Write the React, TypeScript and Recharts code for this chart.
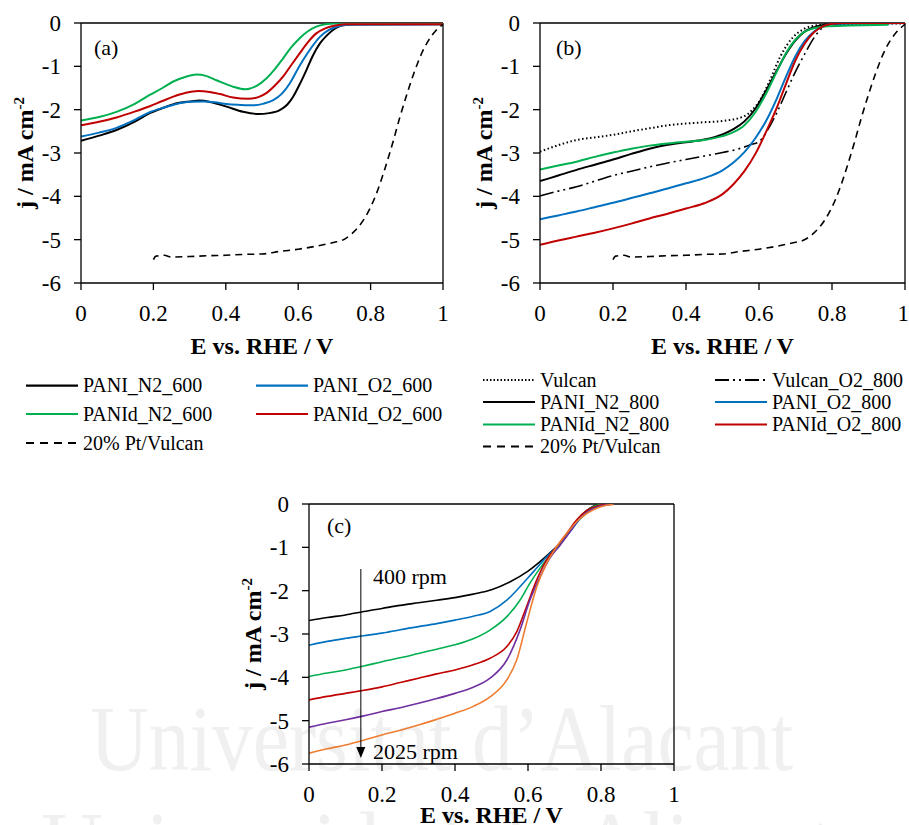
import { Line, LineChart, ReferenceLine, XAxis, YAxis } from "recharts";

type Pt = [number, number];

const FONT = "Liberation Serif";

const BLACK = "#000000";
const BLUE = "#0070C0";
const GREEN = "#00B050";
const RED = "#C00000";
const PURPLE = "#7030A0";
const ORANGE = "#ED7D31";

const xTicks = [0, 0.2, 0.4, 0.6, 0.8, 1];
const yTicks = [-6, -5, -4, -3, -2, -1, 0];

// (a) catalysts treated at 600 °C
const paniN2_600: Pt[] = [
  [0, -2.72], [0.05, -2.6], [0.098, -2.47], [0.15, -2.27], [0.19, -2.08], [0.23, -1.95], [0.264, -1.85],
  [0.3, -1.81], [0.328, -1.79], [0.36, -1.83], [0.402, -1.93], [0.448, -2.05], [0.489, -2.1],
  [0.52, -2.08], [0.549, -2.01], [0.57, -1.88], [0.586, -1.7], [0.605, -1.4], [0.623, -1.08],
  [0.64, -0.76], [0.66, -0.47], [0.68, -0.28], [0.696, -0.16], [0.724, -0.05], [0.76, -0.03], [1, -0.03],
];
const paniO2_600: Pt[] = [
  [0, -2.62], [0.05, -2.53], [0.098, -2.42], [0.15, -2.23], [0.19, -2.06], [0.23, -1.95], [0.264, -1.87],
  [0.3, -1.82], [0.338, -1.81], [0.37, -1.83], [0.402, -1.87], [0.44, -1.89], [0.476, -1.9],
  [0.505, -1.86], [0.531, -1.78], [0.555, -1.63], [0.577, -1.39], [0.595, -1.12], [0.614, -0.85],
  [0.637, -0.56], [0.66, -0.32], [0.685, -0.16], [0.706, -0.085], [0.74, -0.04], [1, -0.03],
];
const panidN2_600: Pt[] = [
  [0, -2.25], [0.05, -2.17], [0.098, -2.05], [0.15, -1.86], [0.19, -1.66], [0.225, -1.5], [0.255, -1.35],
  [0.29, -1.24], [0.319, -1.19], [0.345, -1.22], [0.374, -1.32], [0.42, -1.47], [0.453, -1.53],
  [0.485, -1.45], [0.512, -1.28], [0.535, -1.07], [0.558, -0.82], [0.58, -0.57], [0.604, -0.35],
  [0.627, -0.19], [0.65, -0.085], [0.675, -0.03], [0.7, -0.01], [1, -0.01],
];
const panidO2_600: Pt[] = [
  [0, -2.36], [0.05, -2.28], [0.098, -2.18], [0.15, -2.04], [0.19, -1.92], [0.225, -1.8], [0.255, -1.7],
  [0.29, -1.61], [0.324, -1.57], [0.355, -1.59], [0.384, -1.64], [0.42, -1.72], [0.462, -1.75],
  [0.49, -1.71], [0.512, -1.62], [0.535, -1.45], [0.558, -1.24], [0.58, -0.98], [0.604, -0.7],
  [0.627, -0.44], [0.65, -0.24], [0.673, -0.13], [0.696, -0.07], [0.73, -0.03], [1, -0.03],
];
const ptVulcan: Pt[] = [
  [0.2, -5.46], [0.207, -5.38], [0.23, -5.36], [0.25, -5.4], [0.3, -5.39], [0.35, -5.37], [0.4, -5.36],
  [0.45, -5.34], [0.5, -5.33], [0.55, -5.27], [0.6, -5.22], [0.65, -5.15], [0.7, -5.06], [0.72, -5.02],
  [0.75, -4.85], [0.78, -4.55], [0.8, -4.25], [0.82, -3.85], [0.84, -3.35], [0.86, -2.8], [0.88, -2.2],
  [0.9, -1.65], [0.92, -1.15], [0.94, -0.72], [0.96, -0.4], [0.98, -0.18], [1, -0.03],
];

// (b) catalysts treated at 800 °C
const vulcan: Pt[] = [
  [0, -2.97], [0.05, -2.82], [0.1, -2.7], [0.15, -2.64], [0.2, -2.58], [0.25, -2.5], [0.3, -2.43],
  [0.35, -2.36], [0.4, -2.32], [0.45, -2.29], [0.5, -2.26], [0.557, -2.16], [0.58, -2.02],
  [0.603, -1.78], [0.63, -1.32], [0.658, -0.78], [0.694, -0.32], [0.72, -0.15], [0.74, -0.08],
  [0.8, -0.03], [1, -0.01],
];
const vulcanO2_800: Pt[] = [
  [0, -3.99], [0.05, -3.88], [0.1, -3.78], [0.15, -3.65], [0.2, -3.52], [0.25, -3.42], [0.3, -3.32],
  [0.35, -3.23], [0.4, -3.15], [0.45, -3.07], [0.5, -2.99], [0.55, -2.89], [0.58, -2.8], [0.6, -2.74],
  [0.625, -2.45], [0.65, -2.05], [0.675, -1.58], [0.7, -1.12], [0.725, -0.72], [0.75, -0.35],
  [0.775, -0.1], [0.8, -0.02], [0.85, 0], [1, 0],
];
const paniN2_800: Pt[] = [
  [0, -3.65], [0.05, -3.52], [0.1, -3.39], [0.15, -3.27], [0.2, -3.15], [0.25, -3.02], [0.3, -2.9],
  [0.35, -2.81], [0.4, -2.75], [0.45, -2.69], [0.5, -2.57], [0.53, -2.45], [0.56, -2.27], [0.59, -1.98],
  [0.62, -1.55], [0.65, -1.08], [0.675, -0.7], [0.7, -0.4], [0.725, -0.2], [0.75, -0.1], [0.78, -0.04],
  [0.82, -0.01], [1, 0],
];
const paniO2_800: Pt[] = [
  [0, -4.53], [0.05, -4.44], [0.1, -4.35], [0.15, -4.25], [0.2, -4.15], [0.25, -4.04], [0.3, -3.93],
  [0.35, -3.82], [0.4, -3.7], [0.45, -3.58], [0.5, -3.4], [0.53, -3.22], [0.56, -2.98], [0.59, -2.66],
  [0.62, -2.25], [0.65, -1.72], [0.675, -1.22], [0.7, -0.76], [0.725, -0.42], [0.75, -0.2],
  [0.775, -0.08], [0.8, -0.02], [1, 0],
];
const panidN2_800: Pt[] = [
  [0, -3.38], [0.05, -3.29], [0.1, -3.2], [0.15, -3.09], [0.2, -2.99], [0.25, -2.9], [0.3, -2.83],
  [0.35, -2.78], [0.4, -2.74], [0.45, -2.7], [0.5, -2.61], [0.53, -2.52], [0.56, -2.36], [0.59, -2.06],
  [0.62, -1.62], [0.65, -1.1], [0.675, -0.68], [0.7, -0.38], [0.725, -0.2], [0.75, -0.12], [0.78, -0.08],
  [0.85, -0.06], [0.955, -0.04],
];
const panidO2_800: Pt[] = [
  [0, -5.12], [0.05, -5.02], [0.1, -4.93], [0.15, -4.84], [0.2, -4.74], [0.25, -4.63], [0.3, -4.51],
  [0.35, -4.4], [0.4, -4.28], [0.45, -4.16], [0.5, -3.95], [0.53, -3.72], [0.56, -3.42], [0.59, -3.02],
  [0.62, -2.5], [0.65, -1.93], [0.675, -1.38], [0.7, -0.86], [0.725, -0.48], [0.75, -0.22],
  [0.775, -0.08], [0.8, -0.02], [0.83, 0], [1, 0],
];

// (c) rotation-rate series
const rpm400: Pt[] = [
  [0, -2.69], [0.05, -2.62], [0.1, -2.56], [0.15, -2.48], [0.2, -2.41], [0.25, -2.34], [0.3, -2.28],
  [0.35, -2.22], [0.4, -2.16], [0.45, -2.08], [0.5, -1.98], [0.55, -1.8], [0.6, -1.55], [0.633, -1.33],
  [0.669, -1.06], [0.697, -0.83], [0.724, -0.52], [0.752, -0.22], [0.779, -0.05], [0.8, 0], [0.83, 0],
];
const rpm625: Pt[] = [
  [0, -3.26], [0.05, -3.17], [0.1, -3.1], [0.15, -3.04], [0.2, -2.98], [0.25, -2.9], [0.3, -2.83],
  [0.35, -2.76], [0.4, -2.68], [0.45, -2.59], [0.496, -2.48], [0.542, -2.22], [0.578, -1.91],
  [0.615, -1.56], [0.651, -1.22], [0.688, -0.91], [0.715, -0.64], [0.742, -0.35], [0.77, -0.15],
  [0.797, -0.04], [0.83, 0],
];
const rpm900: Pt[] = [
  [0, -3.98], [0.05, -3.9], [0.1, -3.83], [0.15, -3.74], [0.2, -3.64], [0.25, -3.55], [0.3, -3.45],
  [0.35, -3.35], [0.4, -3.25], [0.45, -3.11], [0.496, -2.91], [0.542, -2.6], [0.578, -2.22],
  [0.605, -1.83], [0.633, -1.48], [0.669, -1.1], [0.697, -0.83], [0.724, -0.48], [0.752, -0.22],
  [0.779, -0.06], [0.8, -0.01], [0.83, 0],
];
const rpm1225: Pt[] = [
  [0, -4.52], [0.05, -4.44], [0.1, -4.37], [0.15, -4.3], [0.2, -4.22], [0.25, -4.12], [0.3, -4.02],
  [0.35, -3.92], [0.4, -3.83], [0.45, -3.71], [0.496, -3.56], [0.542, -3.29], [0.569, -2.95],
  [0.596, -2.37], [0.624, -1.75], [0.651, -1.29], [0.679, -0.98], [0.706, -0.68], [0.733, -0.37],
  [0.761, -0.15], [0.788, -0.05], [0.81, -0.01], [0.83, 0],
];
const rpm1600: Pt[] = [
  [0, -5.15], [0.05, -5.06], [0.1, -4.98], [0.15, -4.89], [0.2, -4.79], [0.25, -4.7], [0.3, -4.6],
  [0.35, -4.49], [0.4, -4.37], [0.45, -4.23], [0.496, -4.02], [0.542, -3.6], [0.578, -2.91],
  [0.605, -2.22], [0.633, -1.68], [0.66, -1.25], [0.688, -0.95], [0.715, -0.64], [0.742, -0.33],
  [0.77, -0.14], [0.797, -0.05], [0.825, -0.01], [0.835, 0],
];
const rpm2025: Pt[] = [
  [0, -5.75], [0.05, -5.65], [0.1, -5.56], [0.15, -5.45], [0.2, -5.33], [0.25, -5.22], [0.3, -5.1],
  [0.35, -4.97], [0.4, -4.83], [0.45, -4.67], [0.496, -4.45], [0.542, -4.06], [0.569, -3.6],
  [0.596, -2.75], [0.624, -1.91], [0.651, -1.37], [0.679, -0.98], [0.706, -0.68], [0.733, -0.41],
  [0.761, -0.22], [0.788, -0.1], [0.815, -0.03], [0.834, -0.01],
];

// arrow drawn across the rpm curves, from 400 down to 2025
const rpmArrow = [
  { x: 0.142, y: -1.5 },
  { x: 0.142, y: -5.86 },
];

type Series = { name: string; pts: Pt[]; color: string; dash?: string; width?: number };

const seriesA: Series[] = [
  { name: "PANI_N2_600", pts: paniN2_600, color: BLACK },
  { name: "PANI_O2_600", pts: paniO2_600, color: BLUE },
  { name: "PANId_N2_600", pts: panidN2_600, color: GREEN },
  { name: "PANId_O2_600", pts: panidO2_600, color: RED },
  { name: "20% Pt/Vulcan", pts: ptVulcan, color: BLACK, dash: "7 5", width: 1.6 },
];

const seriesB: Series[] = [
  { name: "Vulcan", pts: vulcan, color: BLACK, dash: "1.5 2.5", width: 2 },
  { name: "Vulcan_O2_800", pts: vulcanO2_800, color: BLACK, dash: "14 4 2 4 2 4", width: 1.6 },
  { name: "PANI_N2_800", pts: paniN2_800, color: BLACK },
  { name: "PANI_O2_800", pts: paniO2_800, color: BLUE },
  { name: "PANId_N2_800", pts: panidN2_800, color: GREEN },
  { name: "PANId_O2_800", pts: panidO2_800, color: RED },
  { name: "20% Pt/Vulcan", pts: ptVulcan, color: BLACK, dash: "7 5", width: 1.6 },
];

const seriesC: Series[] = [
  { name: "400", pts: rpm400, color: BLACK, width: 1.6 },
  { name: "625", pts: rpm625, color: BLUE, width: 1.6 },
  { name: "900", pts: rpm900, color: GREEN, width: 1.6 },
  { name: "1225", pts: rpm1225, color: RED, width: 1.6 },
  { name: "1600", pts: rpm1600, color: PURPLE, width: 1.6 },
  { name: "2025", pts: rpm2025, color: ORANGE, width: 1.6 },
];

// legend grids: [series name, column, row]
const legendA: [string, number, number][] = [
  ["PANI_N2_600", 0, 0],
  ["PANI_O2_600", 1, 0],
  ["PANId_N2_600", 0, 1],
  ["PANId_O2_600", 1, 1],
  ["20% Pt/Vulcan", 0, 2],
];
const legendB: [string, number, number][] = [
  ["Vulcan", 0, 0],
  ["Vulcan_O2_800", 1, 0],
  ["PANI_N2_800", 0, 1],
  ["PANI_O2_800", 1, 1],
  ["PANId_N2_800", 0, 2],
  ["PANId_O2_800", 1, 2],
  ["20% Pt/Vulcan", 0, 3],
];

const toRows = (pts: Pt[]) => pts.map(([E, j]) => ({ E, j }));

const tickStyle = { fill: "#000", fontSize: 23, fontFamily: FONT, style: { fontFamily: FONT } };
const axisStroke = { stroke: "#000", strokeWidth: 1.3 };
const textStyle = { fontFamily: FONT };

function ArrowShape(props: any) {
  const { x1, y1, x2, y2 } = props;
  return (
    <g>
      <line x1={x1} y1={y1} x2={x2} y2={y2 - 6} stroke="#000" strokeWidth={1} />
      <path d={`M${x2 - 4.5},${y2 - 11} L${x2 + 4.5},${y2 - 11} L${x2},${y2} Z`} fill="#000" />
    </g>
  );
}

function Panel(props: {
  left: number;
  top: number;
  width: number;
  height: number;
  right: number;
  series: Series[];
  extra?: React.ReactNode;
}) {
  const { left, top, width, height, right, series, extra } = props;
  return (
    <div style={{ position: "absolute", left, top, width, height, overflow: "hidden" }}>
      <LineChart width={width} height={height} margin={{ top: 23, right, left: 0, bottom: 0 }} style={textStyle}>
        <XAxis
          type="number"
          dataKey="E"
          domain={[0, 1]}
          ticks={xTicks}
          allowDataOverflow
          height={height - 23 - 260}
          tickSize={7}
          tickMargin={15}
          tick={tickStyle}
          axisLine={axisStroke}
          tickLine={axisStroke}
        />
        <YAxis
          type="number"
          domain={[-6, 0]}
          ticks={yTicks}
          allowDataOverflow
          width={81}
          tickSize={7}
          tickMargin={13}
          tick={tickStyle}
          axisLine={axisStroke}
          tickLine={axisStroke}
        />
        <ReferenceLine y={0} stroke="#000" strokeWidth={1.3} />
        <ReferenceLine x={1} stroke="#000" strokeWidth={1.3} />
        {series.map((s) => (
          <Line
            key={s.name}
            data={toRows(s.pts)}
            dataKey="j"
            type="monotone"
            stroke={s.color}
            strokeWidth={s.width ?? 2}
            strokeDasharray={s.dash}
            dot={false}
            activeDot={false}
            isAnimationActive={false}
          />
        ))}
        {extra}
      </LineChart>
    </div>
  );
}

function Legend(props: { items: [string, number, number][]; series: Series[]; cols: number[]; rows: number[] }) {
  const { items, series, cols, rows } = props;
  return (
    <g>
      {items.map(([name, c, r]) => {
        const s = series.find((d) => d.name === name)!;
        const x = cols[c];
        const y = rows[r];
        return (
          <g key={name}>
            <line
              x1={x}
              x2={x + 52}
              y1={y}
              y2={y}
              stroke={s.color}
              strokeWidth={s.dash ? 1.8 : 2.2}
              strokeDasharray={s.dash === "7 5" ? "8 6" : s.dash === "1.5 2.5" ? "1.5 2" : s.dash}
            />
            <text x={x + 57} y={y + 6.5} fontSize={20} fill="#000">
              {name}
            </text>
          </g>
        );
      })}
    </g>
  );
}

function YTitle({ x, y }: { x: number; y: number }) {
  return (
    <text
      transform={`translate(${x},${y}) rotate(-90)`}
      textAnchor="middle"
      fontSize={24}
      fontWeight="bold"
      fill="#000"
    >
      j / mA cm
      <tspan fontSize={15} dy={-9}>
        -2
      </tspan>
    </text>
  );
}

function XTitle({ x, y }: { x: number; y: number }) {
  return (
    <text x={x} y={y} textAnchor="middle" fontSize={24} fontWeight="bold" fill="#000">
      E vs. RHE / V
    </text>
  );
}

export default function App() {
  return (
    <div
      style={{
        position: "absolute",
        left: 0,
        top: 0,
        width: 909,
        height: 825,
        background: "#fff",
        overflow: "hidden",
        fontFamily: FONT,
      }}
    >
      <svg width={909} height={825} style={{ position: "absolute", left: 0, top: 0, fontFamily: FONT }}>
        <text x={90} y={770} fontSize={94} fill="#f0f0f0" textLength={703} lengthAdjust="spacingAndGlyphs">
          Universitat d’Alacant
        </text>
        <text x={41} y={876} fontSize={94} fill="#f0f0f0" textLength={830} lengthAdjust="spacingAndGlyphs">
          Universidad de Alicante
        </text>
      </svg>

      <Panel left={0} top={0} width={460} height={370} right={17} series={seriesA} />
      <Panel left={459} top={0} width={450} height={370} right={4} series={seriesB} />
      <Panel
        left={228}
        top={481}
        width={460}
        height={344}
        right={14}
        series={seriesC}
        extra={<ReferenceLine segment={rpmArrow} stroke="#000" shape={ArrowShape} />}
      />

      <svg
        width={909}
        height={825}
        style={{ position: "absolute", left: 0, top: 0, pointerEvents: "none", fontFamily: FONT }}
      >
        <g fontSize={22} fill="#000">
          <text x={94} y={55}>(a)</text>
          <text x={556} y={55}>(b)</text>
          <text x={327} y={533}>(c)</text>
          <text x={373} y={584}>400 rpm</text>
          <text x={373} y={759}>2025 rpm</text>
        </g>
        <YTitle x={33} y={153} />
        <YTitle x={492} y={153} />
        <YTitle x={261} y={634} />
        <XTitle x={262} y={354} />
        <XTitle x={722.5} y={354} />
        <XTitle x={491.5} y={823} />
        <Legend items={legendA} series={seriesA} cols={[26, 256]} rows={[385.7, 414, 443]} />
        <Legend items={legendB} series={seriesB} cols={[483, 715]} rows={[380, 402, 424.5, 446.5]} />
      </svg>
    </div>
  );
}
